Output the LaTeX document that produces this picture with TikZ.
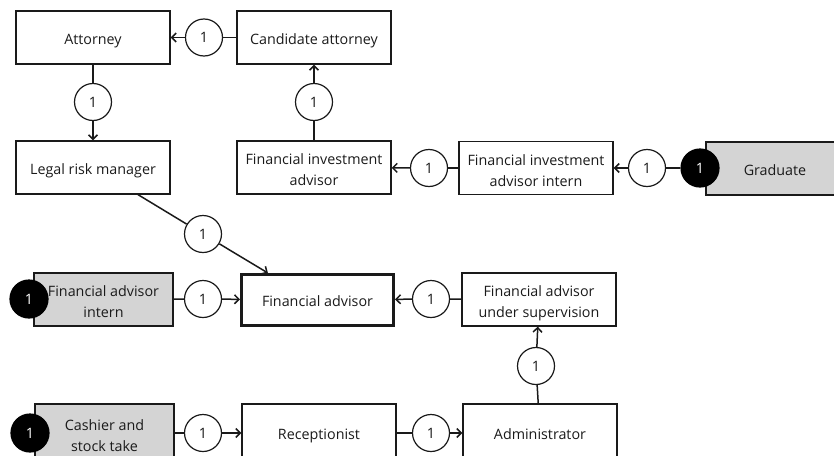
\documentclass[tikz,border=0pt]{standalone}
\usepackage{fontspec}
\setmainfont{Open Sans}
\usetikzlibrary{arrows.meta,calc}
\definecolor{boxgrey}{HTML}{D4D4D4}
\definecolor{ink}{HTML}{1A1A1A}
\tikzset{
  boxtext/.style={inner sep=0pt, align=center, text=ink, font=\fontsize{14.3}{21}\selectfont,
    execute at begin node=\rule{0pt}{17pt}, execute at end node=\vphantom{g}},
  role/.style={draw=ink, line width=1.3pt, minimum width=154pt, minimum height=53pt, boxtext},
  entry/.style={role, fill=boxgrey},
  target/.style={role, line width=3pt},
  % two-line caption placed inside a box
  twoline/.style={label={[boxtext, yshift=-4pt]center:#1}},
  hop/.style={circle, draw=ink, line width=1.2pt, fill=white, minimum size=37pt,
    inner sep=0pt, text=ink, font=\fontsize{14.3}{16}\selectfont},
  start/.style={hop, fill=black, draw=black, text=white, minimum size=38pt},
  link/.style={draw=ink, line width=1.5pt},
  flow/.style={link, -{Straight Barb[length=4.5pt,width=9pt,line width=1.5pt]}},
}
\begin{document}
\begin{tikzpicture}[x=1pt, y=-1pt]
\useasboundingbox (0,0) rectangle (834,455);
\begin{scope}
\clip (0,0) rectangle (834,455);
% career boxes
\node[role] (att)  at (93,37.5)   {Attorney};
\node[role] (cand) at (314,37.5)  {Candidate attorney};
\node[role] (lrm)  at (93,167.5)  {Legal risk manager};
\node[role, twoline={Financial investment\\advisor}] (fia)  at (314,167.5) {};
\node[role, twoline={Financial investment\\advisor intern}] (fiai) at (536,168) {};
\node[entry] (grad) at (783,168.5) {};
\node[boxtext] (gradlbl) at (775,168.5) {Graduate};
\node[entry, minimum width=139pt, twoline={Financial advisor\\intern}] (fai) at (103.5,299.5) {};
\node[target, minimum width=152pt, minimum height=51pt] (fa) at (317.5,300) {Financial advisor};
\node[role, twoline={Financial advisor\\under supervision}] (faus) at (539,299.5) {};
\node[entry, minimum width=139pt, minimum height=58pt, twoline={Cashier and\\stock take}] (cash) at (104.5,433) {};
\node[role, minimum height=58pt] (rec)  at (319,433) {Receptionist};
\node[role, minimum height=58pt] (adm)  at (540,433) {Administrator};

% step counters
\node[hop] (c1)  at (204,37.5) {1};
\node[hop] (c2)  at (93,102)   {1};
\node[hop] (c3)  at (314,102)  {1};
\node[hop] (c4)  at (429,168)  {1};
\node[hop] (c5)  at (647,168)  {1};
\node[hop] (c6)  at (203,234)  {1};
\node[hop] (c7)  at (203,299)  {1};
\node[hop] (c8)  at (431,299)  {1};
\node[hop] (c9)  at (536,366)  {1};
\node[hop] (c10) at (203,433)  {1};
\node[hop] (c11) at (431,433)  {1};

% entry points
\node[start] (b1) at (700,168) {1};
\node[start] (b2) at (29,299)  {1};
\node[start] (b3) at (30,433)  {1};

% connectors
\draw[link] (cand) -- (c1); \draw[flow] (c1) -- (att);
\draw[link] (att) -- (c2);  \draw[flow] (c2) -- (lrm);
\draw[link] (fia) -- (c3);  \draw[flow] (c3) -- (cand);
\draw[link] (fiai) -- (c4); \draw[flow] (c4) -- (fia);
\draw[link] (b1) -- (c5);   \draw[flow] (c5) -- (fiai);
\coordinate (lrmout) at ($(lrm.south west)!0.79!(lrm.south east)$);
\coordinate (fain) at ($(fa.north west)!0.18!(fa.north east)$);
\draw[link] (lrmout) -- (c6); \draw[flow] (c6) -- (fain);
\draw[link] (fai) -- (c7);  \draw[flow] (c7) -- (fa);
\draw[link] (faus) -- (c8); \draw[flow] (c8) -- (fa);
\draw[link] (adm) -- (c9);  \draw[flow] (c9) -- (faus);
\draw[link] (cash) -- (c10); \draw[flow] (c10) -- (rec);
\draw[link] (rec) -- (c11); \draw[flow] (c11) -- (adm);
\end{scope}
\end{tikzpicture}
\end{document}
